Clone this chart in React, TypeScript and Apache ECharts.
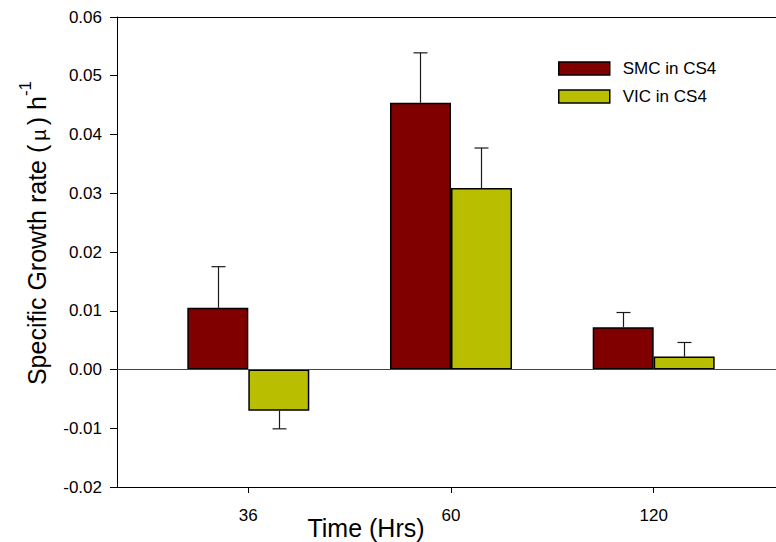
import React, { useEffect, useRef } from "react";
import * as echarts from "echarts";

const categories = ["36", "60", "120"];
const seriesNames = ["SMC in CS4", "VIC in CS4"];
const smcValues = [0.0105, 0.0454, 0.0072];
const smcErrors = [0.007, 0.0085, 0.0025];
const vicValues = [-0.007, 0.0309, 0.0022];
const vicErrors = [0.0031, 0.0068, 0.0024];
const yMin = -0.02;
const yMax = 0.06;
const yStep = 0.01;

const FONT = "'Liberation Sans', Arial, sans-serif";
const SMC_COLOR = "#800000";
const VIC_COLOR = "#B9BF00";
const BAR_W = 61;
const X_MIN = -0.6478;
const X_MAX = 2.6034;

export default function App() {
  const ref = useRef<HTMLDivElement>(null);

  useEffect(() => {
    if (!ref.current) return;
    const chart = echarts.init(ref.current, null, { renderer: "svg" });

    const catIdx = categories.map((_, i) => i);
    const errData = [
      ...smcValues.map((v, i) => [i, v, smcErrors[i], -0.5]),
      ...vicValues.map((v, i) => [i, v, vicErrors[i], 0.5]),
    ];

    const option: any = {
      animation: false,
      backgroundColor: "#fff",
      textStyle: { fontFamily: FONT },
      grid: { left: 117, right: 0, top: 17, bottom: 55 },
      legend: {
        data: seriesNames,
        orient: "vertical",
        left: 558,
        top: 60,
        padding: 0,
        itemWidth: 51,
        itemHeight: 13,
        itemGap: 11,
        icon: "rect",
        selectedMode: false,
        itemStyle: { borderColor: "#000", borderWidth: 1.5 },
        textStyle: { fontSize: 17, color: "#000", fontFamily: FONT, padding: [0, 0, 0, 8] },
      },
      xAxis: [
        {
          type: "value",
          position: "top",
          min: X_MIN,
          max: X_MAX,
          axisLine: { show: true, onZero: false, lineStyle: { color: "#000", width: 1 } },
          axisTick: { show: false },
          axisLabel: { show: false },
          splitLine: { show: false },
        },
        {
          type: "value",
          position: "bottom",
          min: X_MIN,
          max: X_MAX,
          axisLine: { show: true, onZero: false, lineStyle: { color: "#000", width: 1 } },
          axisTick: {
            show: true,
            inside: false,
            length: 6,
            customValues: catIdx,
            lineStyle: { color: "#000", width: 1 },
          },
          axisLabel: {
            show: true,
            customValues: catIdx,
            margin: 20,
            fontSize: 17,
            color: "#000",
            fontFamily: FONT,
            formatter: (v: number) => categories[Math.round(v)] ?? "",
          },
          splitLine: { show: false },
        },
      ],
      yAxis: {
        type: "value",
        min: yMin,
        max: yMax,
        interval: yStep,
        axisLine: { show: true, onZero: false, lineStyle: { color: "#000", width: 1 } },
        axisTick: { show: true, inside: false, length: 7, lineStyle: { color: "#000", width: 1 } },
        axisLabel: {
          margin: 15,
          fontSize: 17,
          color: "#000",
          fontFamily: FONT,
          formatter: (v: number) => v.toFixed(2),
        },
        splitLine: { show: false },
      },
      series: [
        {
          name: seriesNames[0],
          type: "bar",
          xAxisIndex: 0,
          barWidth: BAR_W,
          barGap: "0%",
          data: smcValues.map((v, i) => [i, v]),
          itemStyle: { color: SMC_COLOR, borderColor: "#000", borderWidth: 1.5 },
          markLine: {
            silent: true,
            symbol: "none",
            label: { show: false },
            lineStyle: { color: "#444", width: 1, type: "solid" },
            data: [{ yAxis: 0 }],
          },
        },
        {
          name: seriesNames[1],
          type: "bar",
          xAxisIndex: 0,
          barWidth: BAR_W,
          barGap: "0%",
          data: vicValues.map((v, i) => [i, v]),
          itemStyle: { color: VIC_COLOR, borderColor: "#000", borderWidth: 1.5 },
        },
        {
          type: "custom",
          xAxisIndex: 0,
          silent: true,
          z: 5,
          data: errData,
          renderItem: (params: any, api: any) => {
            const i = api.value(0);
            const v = api.value(1);
            const e = api.value(2);
            const side = api.value(3);
            const sign = v >= 0 ? 1 : -1;
            const base = api.coord([i, v]);
            const end = api.coord([i, v + sign * e]);
            const x = Math.round(base[0] + side * BAR_W) + 0.5;
            const style = { stroke: "#1a1a1a", lineWidth: 1.2 };
            return {
              type: "group",
              children: [
                { type: "line", shape: { x1: x, y1: base[1], x2: x, y2: end[1] }, style },
                { type: "line", shape: { x1: x - 7, y1: end[1], x2: x + 7, y2: end[1] }, style },
              ],
            };
          },
        },
      ],
      graphic: [
        {
          type: "text",
          x: 33,
          y: 233,
          rotation: Math.PI / 2,
          style: {
            text: "{t|Specific Growth rate (}{mu|µ}{t|) h}{sup|-1}",
            align: "center",
            verticalAlign: "middle",
            fill: "#000",
            rich: {
              t: { fontSize: 25, fontFamily: FONT, fill: "#000", lineHeight: 32, verticalAlign: "bottom" },
              mu: { fontSize: 20, fontFamily: FONT, fill: "#000", lineHeight: 32, verticalAlign: "bottom", padding: [0, 4, 0, 4] },
              sup: { fontSize: 17, fontFamily: FONT, fill: "#000", verticalAlign: "top" },
            },
          },
        },
        {
          type: "text",
          x: 366,
          y: 528,
          style: {
            text: "Time (Hrs)",
            align: "center",
            verticalAlign: "middle",
            fontSize: 25,
            fontFamily: FONT,
            fill: "#000",
          },
        },
      ],
    };

    chart.setOption(option);
    return () => chart.dispose();
  }, []);

  return (
    <div
      ref={ref}
      style={{ position: "fixed", left: 0, top: 0, width: 776, height: 542, background: "#fff" }}
    />
  );
}
